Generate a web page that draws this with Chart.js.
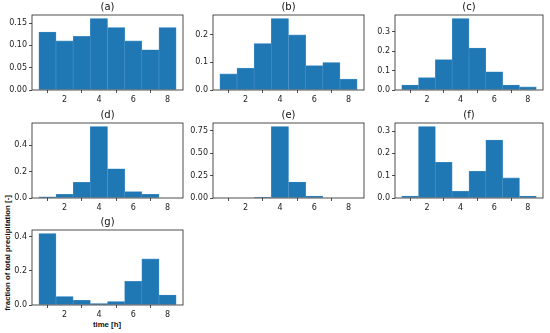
<!DOCTYPE html>
<html>
<head>
<meta charset="utf-8">
<script src="https://cdn.jsdelivr.net/npm/chart.js@4.4.1/dist/chart.umd.min.js"></script>
<style>
  html, body { margin: 0; padding: 0; background: #fff; }
  body { width: 550px; height: 333px; position: relative; overflow: hidden; font-family: "DejaVu Sans", sans-serif; }
  canvas { position: absolute; }
  .lbl { position: absolute; font-family: "Liberation Sans", Arial, sans-serif; font-weight: bold; font-size: 7.8px; color: #111; white-space: nowrap; }
</style>
</head>
<body>
<div class="lbl" id="ylab" style="left:7px; top:253px; transform: translate(-50%,-50%) rotate(-90deg);">fraction of total precipitation [-]</div>
<div class="lbl" id="xlab" style="left:107px; top:324px; transform: translate(-50%,-50%);">time [h]</div>
<script>
// ---- data ----
const hours = [1, 2, 3, 4, 5, 6, 7, 8];
const xTickValues = [2, 4, 6, 8];
const xTickLabels = ['2', '4', '6', '8'];

const panelTitles = ['(a)', '(b)', '(c)', '(d)', '(e)', '(f)', '(g)'];

const fracA = [0.130, 0.110, 0.120, 0.160, 0.140, 0.110, 0.090, 0.140];
const fracB = [0.058, 0.079, 0.168, 0.258, 0.199, 0.088, 0.099, 0.039];
const fracC = [0.026, 0.064, 0.157, 0.369, 0.217, 0.094, 0.026, 0.016];
const fracD = [0.008, 0.028, 0.120, 0.543, 0.222, 0.048, 0.028, 0.000];
const fracE = [0.000, 0.000, 0.007, 0.795, 0.178, 0.022, 0.000, 0.000];
const fracF = [0.009, 0.320, 0.160, 0.030, 0.120, 0.260, 0.090, 0.009];
const fracG = [0.420, 0.050, 0.028, 0.008, 0.020, 0.139, 0.271, 0.059];

const yTicksA = [0, 0.05, 0.10, 0.15];      const yLabelsA = ['0.00', '0.05', '0.10', '0.15'];
const yTicksB = [0, 0.1, 0.2];              const yLabelsB = ['0.0', '0.1', '0.2'];
const yTicksC = [0, 0.1, 0.2, 0.3];         const yLabelsC = ['0.0', '0.1', '0.2', '0.3'];
const yTicksD = [0, 0.2, 0.4];              const yLabelsD = ['0.0', '0.2', '0.4'];
const yTicksE = [0, 0.25, 0.50, 0.75];      const yLabelsE = ['0.00', '0.25', '0.50', '0.75'];
const yTicksF = [0, 0.1, 0.2, 0.3];         const yLabelsF = ['0.0', '0.1', '0.2', '0.3'];
const yTicksG = [0, 0.2, 0.4];              const yLabelsG = ['0.0', '0.2', '0.4'];

const series = [fracA, fracB, fracC, fracD, fracE, fracF, fracG];
const yTicksAll = [yTicksA, yTicksB, yTicksC, yTicksD, yTicksE, yTicksF, yTicksG];
const yLabelsAll = [yLabelsA, yLabelsB, yLabelsC, yLabelsD, yLabelsE, yLabelsF, yLabelsG];

// ---- layout (frame boxes) ----
const colLeft = [32, 213, 395];
const colWidth = [151, 151, 148];
const rowTop = [15, 123, 230];
const frameH = 75;
const padL = 32, padT = 15, padR = 4, padB = 18;

const frameTheme = {
  id: 'frameTheme',
  afterDraw(chart, args, opts) {
    const { ctx, chartArea: a } = chart;
    ctx.save();
    ctx.strokeStyle = '#222';
    ctx.lineWidth = 0.8;
    ctx.strokeRect(a.left, a.top, a.right - a.left, a.bottom - a.top);
    ctx.fillStyle = '#111';
    ctx.font = '10px "DejaVu Sans"';
    ctx.textAlign = 'center';
    ctx.textBaseline = 'bottom';
    ctx.fillText(opts.text, (a.left + a.right) / 2, a.top - 3);
    ctx.restore();
  }
};

series.forEach((vals, i) => {
  const r = Math.floor(i / 3), c = i % 3;
  const cv = document.createElement('canvas');
  const w = colWidth[c] + padL + padR;
  const h = frameH + padT + padB;
  cv.width = w; cv.height = h;
  cv.style.width = w + 'px'; cv.style.height = h + 'px';
  cv.style.left = (colLeft[c] - padL) + 'px';
  cv.style.top = (rowTop[r] - padT) + 'px';
  document.body.appendChild(cv);

  const yT = yTicksAll[i], yL = yLabelsAll[i];
  const ymax = Math.max(...vals) * 1.05;

  new Chart(cv, {
    type: 'bar',
    data: {
      datasets: [{
        data: hours.map((hh, k) => ({ x: hh, y: vals[k] })),
        backgroundColor: '#1f77b4',
        borderColor: '#4a93c8',
        borderWidth: 0.6,
        barPercentage: 1.0,
        categoryPercentage: 1.0
      }]
    },
    options: {
      responsive: false,
      animation: false,
      devicePixelRatio: 1,
      layout: { padding: { top: padT, right: padR, left: 0, bottom: 0 } },
      plugins: {
        legend: { display: false },
        tooltip: { enabled: false },
        frameTheme: { text: panelTitles[i] }
      },
      scales: {
        x: {
          type: 'linear',
          min: 0.1, max: 8.9,
          offset: false,
          afterBuildTicks: (s) => { s.ticks = xTickValues.map(v => ({ value: v })); },
          afterFit: (s) => { s.height = padB; },
          ticks: {
            autoSkip: false, maxRotation: 0, padding: 2,
            color: '#222', font: { family: 'DejaVu Sans', size: 8 },
            callback: (v) => { const k = xTickValues.indexOf(v); return k >= 0 ? xTickLabels[k] : ''; }
          },
          grid: { display: true, drawOnChartArea: false, drawTicks: true, tickLength: 3, color: '#222', lineWidth: 0.8 },
          border: { display: false }
        },
        y: {
          min: 0, max: ymax,
          afterBuildTicks: (s) => { s.ticks = yT.map(v => ({ value: v })); },
          afterFit: (s) => { s.width = padL; },
          ticks: {
            autoSkip: false, padding: 2,
            color: '#222', font: { family: 'DejaVu Sans', size: 8 },
            callback: (v) => { const k = yT.findIndex(t => Math.abs(t - v) < 1e-9); return k >= 0 ? yL[k] : ''; }
          },
          grid: { display: true, drawOnChartArea: false, drawTicks: true, tickLength: 3, color: '#222', lineWidth: 0.8 },
          border: { display: false }
        }
      }
    },
    plugins: [frameTheme]
  });
});
</script>
</body>
</html>
